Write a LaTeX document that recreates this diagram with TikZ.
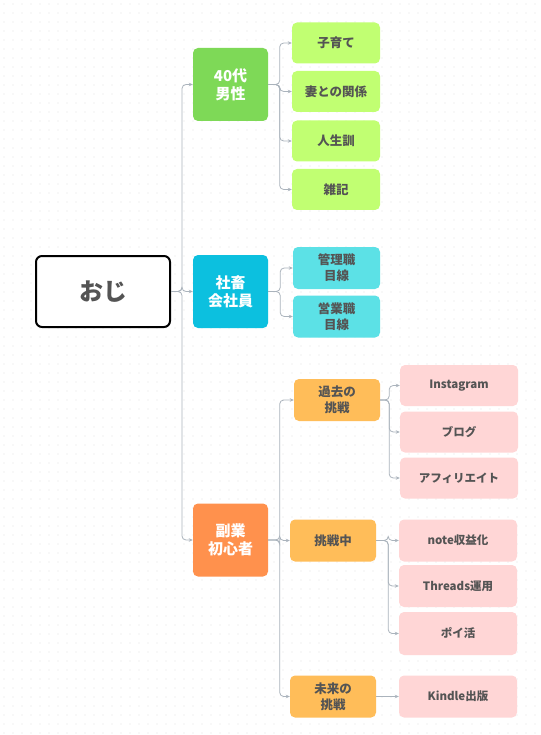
\documentclass[tikz,border=0pt]{standalone}
\usepackage{fontspec}
\setmainfont{Noto Sans CJK JP}
\usepackage{tikz}
\usetikzlibrary{arrows.meta}

\definecolor{txt}{HTML}{545454}
\definecolor{wire}{HTML}{AAB3BC}
\definecolor{dotc}{HTML}{E4E4E4}
\definecolor{grn}{HTML}{7ED957}
\definecolor{lgrn}{HTML}{C1FF72}
\definecolor{cyn}{HTML}{0CC0DF}
\definecolor{lcyn}{HTML}{5CE1E6}
\definecolor{org}{HTML}{FF914D}
\definecolor{yel}{HTML}{FFBD59}
\definecolor{pnk}{HTML}{FFD6D6}

\begin{document}
\begin{tikzpicture}
        [
            x=1pt, y=-1pt,
            box/.style={rounded corners=5pt, inner sep=0pt, align=center, text=txt,
                minimum height=41pt, font=\bfseries\fontsize{12.5}{16}\selectfont},
            topbox/.style={box, minimum width=75pt, minimum height=73pt, text=white,
                font=\bfseries\fontsize{15}{18}\selectfont},
            midbox/.style={box, minimum width=87pt},
            leafbox/.style={box, fill=pnk, minimum width=118pt,
                font=\bfseries\fontsize{11.5}{15}\selectfont},
            link/.style={draw=wire, line width=0.8pt, rounded corners=4pt,
                -{Stealth[length=4pt, width=3.5pt]}},
        ]
        \useasboundingbox (0,0) rectangle (540,735);
        \fill[white] (0,0) rectangle (540,735);
        \foreach \i in {0,...,59}
            \foreach \j in {0,...,81}
                \fill[dotc] (4+9*\i, 4+9*\j) circle (0.6pt);

        \node[box, draw=black, line width=2pt, fill=white, rounded corners=6pt,
            minimum width=134pt, minimum height=71pt,
            font=\bfseries\fontsize{24}{28}\selectfont] (oji) at (103,291.5) {おじ};

        \node[topbox, fill=grn] (man) at (230.5,84.5) {40代\\男性};
        \node[topbox, fill=cyn] (corp) at (230.5,291.5) {社畜\\会社員};
        \node[topbox, fill=org] (side) at (230.5,540) {副業\\初心者};

        \node[midbox, fill=lgrn, minimum width=88pt] (kids) at (336,43) {子育て};
        \node[midbox, fill=lgrn, minimum width=88pt] (wife) at (336,91.5) {妻との関係};
        \node[midbox, fill=lgrn, minimum width=88pt] (life) at (336,141) {人生訓};
        \node[midbox, fill=lgrn, minimum width=88pt] (misc) at (336,189.5) {雑記};

        \node[midbox, fill=lcyn, minimum height=42pt] (boss) at (336.5,268) {管理職\\目線};
        \node[midbox, fill=lcyn, minimum height=42pt] (sales) at (336.5,316.5) {営業職\\目線};

        \node[midbox, fill=yel, minimum width=86pt, minimum height=42pt] (past) at (337,400) {過去の\\挑戦};
        \node[midbox, fill=yel, minimum width=86pt, minimum height=42pt] (now) at (333,540.5) {挑戦中};
        \node[midbox, fill=yel, minimum width=86pt, minimum height=42pt] (future) at (333,696.5) {未来の\\挑戦};

        \node[leafbox] (insta) at (459,385.5) {Instagram};
        \node[leafbox] (blog) at (459,432) {ブログ};
        \node[leafbox] (affi) at (459,478) {アフィリエイト};
        \node[leafbox, minimum height=42pt] (note) at (458,540.5) {note収益化};
        \node[leafbox, minimum height=42pt] (threads) at (458,586) {Threads運用};
        \node[leafbox, minimum height=43pt] (poi) at (458,633.5) {ポイ活};
        \node[leafbox, minimum height=42pt] (kindle) at (458,696.5) {Kindle出版};

        \foreach \c in {man,corp,side}
            \draw[link] (oji.east) -- ++(11,0) |- (\c.west);
        \foreach \c in {kids,wife,life,misc}
            \draw[link] (man.east) -- ++(11.5,0) |- (\c.west);
        \foreach \c in {boss,sales}
            \draw[link] (corp.east) -- ++(12,0) |- (\c.west);
        \foreach \c in {past,now,future}
            \draw[link] (side.east) -- ++(11.5,0) |- (\c.west);
        \foreach \c in {insta,blog,affi}
            \draw[link] (past.east) -- ++(9,0) |- (\c.west);
        \foreach \c in {note,threads,poi}
            \draw[link] (now.east) -- ++(12,0) |- (\c.west);
        \draw[link] (future.east) -- (kindle.west);
    \end{tikzpicture}
\end{document}
